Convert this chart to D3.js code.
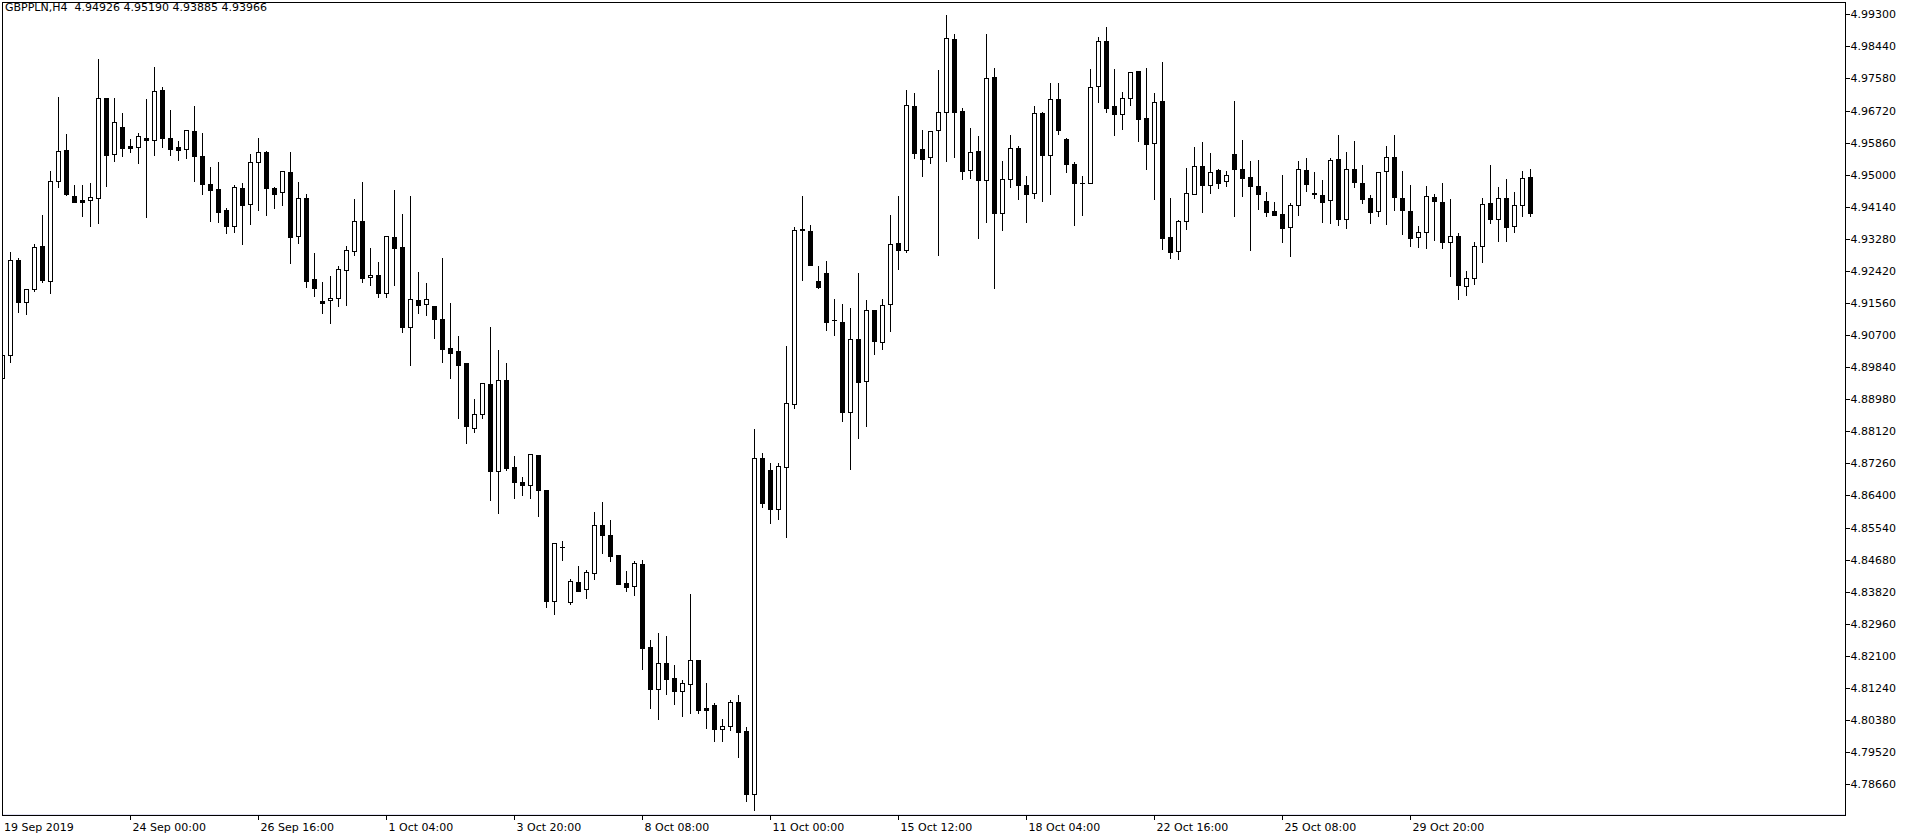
<!DOCTYPE html>
<html><head><meta charset="utf-8">
<script src="https://cdn.jsdelivr.net/npm/d3@7/dist/d3.min.js"></script>
<style>
body{margin:0;background:#fff;}
svg{display:block;}
text{font-family:"DejaVu Sans",sans-serif;font-size:11px;fill:#000;}
</style>
</head><body>
<svg id="chart" width="1916" height="840"></svg>
<script>
const symbol = "GBPPLN,H4";
const headerValues = ["4.94926", "4.95190", "4.93885", "4.93966"];

const open = [
4.8955,4.9017,4.9272,4.9158,4.9193,4.9308,4.9215,4.9482,4.9566,4.9443,
4.9432,4.9432,4.9437,4.9705,4.9555,4.9627,4.9577,4.9575,4.9598,4.9592,
4.9726,4.9598,4.9574,4.9568,4.9617,4.9549,4.9474,4.9461,4.9405,4.9362,
4.9464,4.9421,4.9533,4.9560,4.9464,4.9453,4.9507,4.9335,4.9437,4.9220,
4.9162,4.9164,4.9170,4.9244,4.9296,4.9375,4.9225,4.9231,4.9182,4.9333,
4.9306,4.9091,4.9164,4.9153,4.9147,4.9113,4.9036,4.9028,4.8995,4.8820,
4.8858,4.8938,4.8705,4.8949,4.8716,4.8676,4.8668,4.8748,4.8654,4.8357,
4.8502,4.8354,4.8408,4.8389,4.8432,4.8561,4.8534,4.8480,4.8405,4.8397,
4.8457,4.8234,4.8120,4.8191,4.8150,4.8116,4.8134,4.8199,4.8070,4.8078,
4.8015,4.8021,4.8087,4.8009,4.7841,4.8741,4.8709,4.8603,4.8716,4.8885,
4.9355,4.9348,4.9215,4.9237,4.9110,4.9105,4.8865,4.9059,4.8946,4.9137,
4.9051,4.9153,4.9316,4.9298,4.9683,4.9568,4.9547,4.9619,4.9667,4.9863,
4.9670,4.9512,4.9563,4.9485,4.9761,4.9397,4.9488,4.9572,4.9472,4.9450,
4.9665,4.9552,4.9703,4.9595,4.9529,4.9477,4.9477,4.9737,4.9858,4.9683,
4.9662,4.9705,4.9777,4.9652,4.9584,4.9698,4.9332,4.9295,4.9375,4.9448,
4.9523,4.9472,4.9512,4.9482,4.9555,4.9515,4.9494,4.9470,4.9429,4.9403,
4.9395,4.9359,4.9418,4.9512,4.9450,4.9445,4.9432,4.9541,4.9381,4.9515,
4.9477,4.9437,4.9402,4.9509,4.9547,4.9437,4.9402,4.9332,4.9346,4.9440,
4.9427,4.9319,4.9335,4.9201,4.9222,4.9308,4.9423,4.9381,4.9437,4.9362,
4.9418,4.94926];

const high = [
4.9025,4.9296,4.9279,4.9196,4.9318,4.9395,4.9513,4.9711,4.9612,4.9475,
4.9475,4.9481,4.9813,4.9706,4.9708,4.9668,4.9598,4.9615,4.9706,4.9791,
4.9738,4.9676,4.9593,4.9619,4.9687,4.9614,4.9523,4.9537,4.9413,4.9474,
4.9481,4.9558,4.9601,4.9566,4.9470,4.9509,4.9564,4.9483,4.9450,4.9293,
4.9215,4.9231,4.9258,4.9312,4.9438,4.9483,4.9306,4.9269,4.9335,4.9462,
4.9397,4.9446,4.9242,4.9213,4.9150,4.9280,4.9159,4.9071,4.8998,4.8902,
4.8941,4.9095,4.9033,4.8998,4.8749,4.8693,4.8753,4.8748,4.8657,4.8512,
4.8521,4.8418,4.8454,4.8443,4.8599,4.8626,4.8577,4.8480,4.8441,4.8466,
4.8469,4.8256,4.8275,4.8267,4.8189,4.8148,4.8378,4.8199,4.8141,4.8087,
4.8044,4.8095,4.8108,4.8023,4.8821,4.8757,4.8730,4.8730,4.9044,4.9363,
4.9446,4.9368,4.9258,4.9272,4.9170,4.9156,4.9146,4.9239,4.9167,4.9137,
4.9169,4.9395,4.9445,4.9730,4.9721,4.9623,4.9616,4.9783,4.9931,4.9880,
4.9681,4.9628,4.9607,4.9880,4.9789,4.9540,4.9609,4.9580,4.9499,4.9687,
4.9671,4.9749,4.9749,4.9602,4.9536,4.9499,4.9786,4.9872,4.9899,4.9786,
4.9724,4.9775,4.9780,4.9789,4.9722,4.9805,4.9440,4.9381,4.9521,4.9577,
4.9590,4.9561,4.9517,4.9513,4.9700,4.9595,4.9539,4.9541,4.9456,4.9429,
4.9501,4.9426,4.9539,4.9548,4.9509,4.9488,4.9548,4.9608,4.9563,4.9592,
4.9528,4.9448,4.9507,4.9580,4.9608,4.9513,4.9475,4.9365,4.9472,4.9450,
4.9481,4.9437,4.9346,4.9244,4.9322,4.9440,4.9529,4.9470,4.9490,4.9456,
4.9513,4.95190];

const low = [
4.8947,4.8997,4.9133,4.9126,4.9187,4.9213,4.9182,4.9466,4.9446,4.9428,
4.9390,4.9363,4.9371,4.9471,4.9538,4.9550,4.9560,4.9532,4.9386,4.9554,
4.9575,4.9554,4.9540,4.9544,4.9484,4.9447,4.9377,4.9374,4.9345,4.9347,
4.9313,4.9369,4.9406,4.9393,4.9412,4.9420,4.9262,4.9318,4.9200,4.9176,
4.9130,4.9103,4.9149,4.9152,4.9286,4.9211,4.9203,4.9173,4.9173,4.9205,
4.9077,4.8991,4.9130,4.9125,4.9063,4.8999,4.8956,4.8849,4.8782,4.8809,
4.8849,4.8629,4.8592,4.8707,4.8634,4.8642,4.8633,4.8584,4.8340,4.8321,
4.8466,4.8348,4.8383,4.8364,4.8415,4.8487,4.8464,4.8402,4.8383,4.8374,
4.8175,4.8069,4.8040,4.8109,4.8082,4.8048,4.8058,4.8058,4.8018,4.7981,
4.7981,4.8010,4.7938,4.7822,4.7796,4.8610,4.8565,4.8578,4.8530,4.8874,
4.9219,4.9259,4.9195,4.9084,4.9069,4.8841,4.8712,4.8795,4.8827,4.9018,
4.9034,4.9082,4.9246,4.9294,4.9546,4.9497,4.9532,4.9286,4.9538,4.9548,
4.9489,4.9492,4.9331,4.9374,4.9195,4.9353,4.9468,4.9436,4.9374,4.9438,
4.9430,4.9447,4.9610,4.9508,4.9366,4.9393,4.9477,4.9696,4.9669,4.9607,
4.9623,4.9688,4.9589,4.9516,4.9436,4.9302,4.9278,4.9273,4.9355,4.9448,
4.9401,4.9452,4.9465,4.9471,4.9388,4.9444,4.9299,4.9409,4.9390,4.9393,
4.9319,4.9283,4.9391,4.9457,4.9437,4.9374,4.9371,4.9366,4.9356,4.9468,
4.9423,4.9371,4.9388,4.9367,4.9405,4.9342,4.9310,4.9306,4.9303,4.9326,
4.9303,4.9229,4.9166,4.9177,4.9206,4.9265,4.9371,4.9322,4.9323,4.9346,
4.9388,4.93885];

const close = [
4.9017,4.9272,4.9158,4.9193,4.9306,4.9217,4.9482,4.9563,4.9447,4.9428,
4.9428,4.9440,4.9705,4.9554,4.9641,4.9572,4.9572,4.9604,4.9594,4.9724,
4.9599,4.9570,4.9567,4.9619,4.9551,4.9476,4.9460,4.9401,4.9363,4.9466,
4.9420,4.9533,4.9560,4.9463,4.9449,4.9509,4.9334,4.9437,4.9216,4.9197,
4.9157,4.9170,4.9247,4.9298,4.9375,4.9224,4.9231,4.9182,4.9335,4.9304,
4.9093,4.9166,4.9152,4.9166,4.9113,4.9034,4.9023,4.8991,4.8825,4.8858,
4.8941,4.8705,4.8949,4.8715,4.8676,4.8667,4.8751,4.8654,4.8357,4.8512,
4.8502,4.8410,4.8385,4.8435,4.8561,4.8534,4.8477,4.8404,4.8396,4.8459,
4.8232,4.8120,4.8191,4.8147,4.8115,4.8137,4.8199,4.8066,4.8066,4.8015,
4.8022,4.8087,4.8007,4.7841,4.8741,4.8621,4.8603,4.8718,4.8887,4.9351,
4.9351,4.9259,4.9200,4.9106,4.9110,4.8865,4.9059,4.8943,4.9137,4.9054,
4.9150,4.9314,4.9298,4.9686,4.9559,4.9543,4.9616,4.9667,4.9866,4.9669,
4.9511,4.9560,4.9487,4.9758,4.9396,4.9488,4.9571,4.9473,4.9448,4.9665,
4.9554,4.9702,4.9621,4.9528,4.9477,4.9477,4.9734,4.9858,4.9680,4.9664,
4.9705,4.9775,4.9650,4.9581,4.9694,4.9331,4.9294,4.9375,4.9450,4.9523,
4.9472,4.9507,4.9479,4.9499,4.9514,4.9492,4.9471,4.9448,4.9401,4.9393,
4.9358,4.9418,4.9515,4.9474,4.9447,4.9428,4.9539,4.9382,4.9515,4.9480,
4.9436,4.9401,4.9507,4.9547,4.9440,4.9405,4.9330,4.9346,4.9442,4.9429,
4.9319,4.9335,4.9204,4.9222,4.9308,4.9421,4.9381,4.9437,4.9361,4.9418,
4.9490,4.93966];

const yTickLabels = ["4.99300","4.98440","4.97580","4.96720","4.95860","4.95000","4.94140","4.93280",
"4.92420","4.91560","4.90700","4.89840","4.88980","4.88120","4.87260","4.86400","4.85540","4.84680",
"4.83820","4.82960","4.82100","4.81240","4.80380","4.79520","4.78660"];

const xTickBars = [0,16,32,48,64,80,96,112,128,144,160,176];
const xTickLabels = ["19 Sep 2019","24 Sep 00:00","26 Sep 16:00","1 Oct 04:00","3 Oct 20:00","8 Oct 08:00",
"11 Oct 00:00","15 Oct 12:00","18 Oct 04:00","22 Oct 16:00","25 Oct 08:00","29 Oct 20:00"];

// ---------- drawing ----------
const svg = d3.select("#chart");
const n = open.length;
const plot = {left: 2, top: 2, right: 1845, bottom: 815};
const barStep = 8;

const x = d3.scaleLinear().domain([0, n - 1]).range([2.5, 2.5 + barStep * (n - 1)]);
const y = d3.scaleLinear().domain([4.7866, 4.993]).range([784.2, 14.3]);
const py = v => Math.round(y(v)) + 0.5;

const candles = d3.range(n).map(i => ({i, o: open[i], h: high[i], l: low[i], c: close[i]}));

svg.append("defs").append("clipPath").attr("id", "plotclip")
  .append("rect").attr("x", plot.left).attr("y", plot.top)
  .attr("width", plot.right - plot.left).attr("height", plot.bottom - plot.top);

const g = svg.append("g").attr("clip-path", "url(#plotclip)").attr("shape-rendering", "crispEdges");

// wicks
g.selectAll("line.wick").data(candles).join("line").attr("class", "wick")
  .attr("x1", d => x(d.i)).attr("x2", d => x(d.i))
  .attr("y1", d => py(d.h)).attr("y2", d => py(d.l) + 0.5)
  .attr("stroke", "#000").attr("stroke-width", 1);

// bodies
g.selectAll("rect.body").data(candles.filter(d => Math.round(y(d.o)) !== Math.round(y(d.c)))).join("rect")
  .attr("class", "body")
  .attr("x", d => x(d.i) - 2)
  .attr("y", d => Math.min(py(d.o), py(d.c)))
  .attr("width", 4)
  .attr("height", d => Math.abs(py(d.o) - py(d.c)))
  .attr("fill", d => d.c > d.o ? "#fff" : "#000")
  .attr("stroke", "#000").attr("stroke-width", 1);

// doji
g.selectAll("line.doji").data(candles.filter(d => Math.round(y(d.o)) === Math.round(y(d.c)))).join("line")
  .attr("class", "doji")
  .attr("x1", d => x(d.i) - 2.5).attr("x2", d => x(d.i) + 2.5)
  .attr("y1", d => py(d.c)).attr("y2", d => py(d.c))
  .attr("stroke", "#000").attr("stroke-width", 1);

// faint line above bottom frame
svg.append("line").attr("x1", plot.left + 1).attr("x2", plot.right)
  .attr("y1", plot.bottom - 0.5).attr("y2", plot.bottom - 0.5)
  .attr("stroke", "#e2e2f4").attr("stroke-width", 1).attr("shape-rendering", "crispEdges");

// frame
svg.append("rect").attr("x", plot.left + 0.5).attr("y", plot.top + 0.5)
  .attr("width", plot.right - plot.left).attr("height", plot.bottom - plot.top)
  .attr("fill", "none").attr("stroke", "#000").attr("stroke-width", 1).attr("shape-rendering", "crispEdges");

// right price axis
const yAxis = d3.axisRight(y)
  .tickValues(yTickLabels.map(Number))
  .tickFormat((d, i) => yTickLabels[i])
  .tickSize(4).tickSizeOuter(0).tickPadding(2);
const ya = svg.append("g").attr("transform", `translate(${plot.right + 0.5},0)`).call(yAxis);
ya.select(".domain").remove();
ya.selectAll(".tick line").attr("stroke", "#000").attr("shape-rendering", "crispEdges");
ya.selectAll(".tick").attr("transform", d => `translate(0,${Math.round(y(d)) + 0.5})`);
ya.selectAll(".tick text").attr("fill", "#000").attr("font-family", "DejaVu Sans").attr("font-size", 11)
  .attr("x", 5).attr("dy", "0.36em");

// bottom time axis
const xa = svg.append("g").attr("transform", `translate(0,${plot.bottom + 0.5})`);
const xt = xa.selectAll("g.xt").data(xTickBars).join("g").attr("class", "xt")
  .attr("transform", d => `translate(${x(d)},0)`);
xt.filter((d, i) => i > 0).append("line").attr("y1", 0).attr("y2", 4)
  .attr("stroke", "#000").attr("shape-rendering", "crispEdges");
xt.append("text").attr("x", (d, i) => i === 0 ? 1.5 : 2).attr("y", 15.5)
  .text((d, i) => xTickLabels[i]);

// header
svg.append("text").attr("x", 5).attr("y", 11).attr("xml:space", "preserve")
  .style("white-space", "pre")
  .text(symbol + "  " + headerValues.join(" "));
</script>
</body></html>
